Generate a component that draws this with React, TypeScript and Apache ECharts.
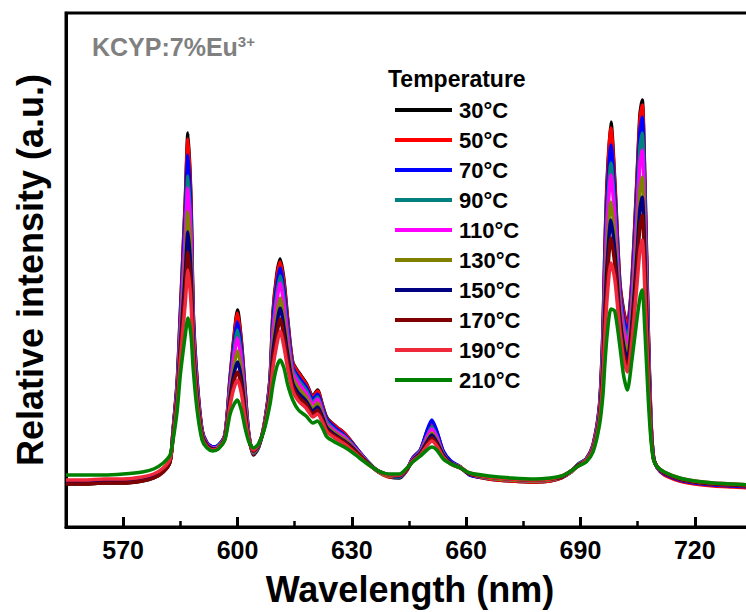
import React, { useEffect, useRef } from "react";
import * as echarts from "echarts";

// Emission wavelengths (nm)
const WAVELENGTH = [
  555, 560, 565, 570, 575, 578, 580.5, 582.3, 583.1, 584.2,
  585, 586.3, 587, 587.8, 588.4, 589.4, 590.7, 592, 593.5, 595,
  596.7, 598, 599, 600, 601, 602, 603, 604.2, 605.5, 607,
  608.5, 609.3, 610.3, 611.2, 612.2, 613.2, 614.5, 616, 618, 619.8,
  621, 622.3, 623.5, 626, 628, 630, 632, 634.5, 637, 640,
  642.5, 644.5, 646, 648, 649.7, 651, 652.3, 654, 656, 658.5,
  661, 666, 672, 678, 682, 685, 687.5, 689.5, 691.5, 693.3,
  695, 695.9, 696.4, 697, 698, 699, 700.3, 701.3, 702.3, 703.5,
  704.8, 705.6, 706.2, 706.9, 707.8, 708.5, 709.2, 710.2, 712, 716,
  720, 725, 730, 735, 740,
];

const T30 = [
  43, 43, 44, 44, 46, 49, 55, 65, 97, 147,
  214, 327, 394, 327, 214, 147, 97, 84, 80, 81,
  92, 147, 187, 217, 187, 137, 92, 72, 79, 102,
  147, 214, 252, 268, 247, 207, 165, 155, 144, 131,
  137, 122, 109, 100, 94, 85, 75, 64, 55, 50,
  49, 57, 69, 77, 95, 105, 95, 75, 65, 60,
  52, 48, 46, 45, 46, 49, 55, 63, 68, 82,
  122, 197, 277, 347, 405, 347, 247, 217, 202, 247,
  347, 412, 427, 347, 197, 107, 69, 59, 53, 47,
  44, 42, 41, 40, 39,
];
const T50 = [
  46, 46, 47, 47, 49, 52, 57, 67, 97, 146,
  212, 323, 388, 323, 212, 146, 97, 84, 80, 81,
  92, 146, 185, 214, 185, 136, 92, 73, 80, 102,
  146, 212, 249, 265, 244, 205, 164, 154, 143, 130,
  136, 121, 108, 100, 94, 85, 75, 64, 55, 50,
  50, 57, 69, 77, 94, 104, 94, 75, 65, 60,
  52, 48, 46, 45, 46, 49, 55, 63, 68, 82,
  121, 195, 274, 342, 399, 343, 245, 215, 200, 245,
  343, 407, 422, 343, 195, 106, 69, 59, 52, 46,
  43, 41, 40, 39, 38,
];
const T70 = [
  44, 44, 45, 45, 47, 50, 56, 66, 96, 143,
  207, 311, 372, 311, 207, 143, 96, 84, 80, 82,
  92, 143, 179, 205, 179, 132, 91, 74, 80, 101,
  144, 205, 241, 259, 236, 199, 160, 150, 140, 128,
  133, 119, 107, 98, 92, 84, 75, 64, 55, 51,
  50, 58, 69, 77, 96, 107, 96, 76, 66, 60,
  52, 49, 47, 46, 47, 50, 55, 63, 68, 81,
  120, 189, 263, 328, 382, 331, 239, 209, 194, 237,
  330, 395, 410, 334, 191, 105, 69, 59, 53, 47,
  44, 42, 41, 40, 39,
];
const T90 = [
  45, 45, 46, 46, 48, 51, 57, 67, 95, 140,
  200, 297, 351, 297, 201, 140, 95, 83, 79, 81,
  91, 139, 173, 197, 172, 129, 90, 74, 80, 101,
  142, 198, 232, 251, 228, 193, 157, 147, 137, 125,
  130, 117, 105, 96, 91, 83, 74, 64, 55, 51,
  50, 58, 68, 76, 91, 100, 91, 73, 64, 60,
  53, 49, 47, 46, 47, 50, 55, 63, 67, 80,
  118, 183, 252, 313, 364, 318, 233, 203, 188, 229,
  316, 379, 394, 322, 185, 104, 69, 59, 54, 48,
  45, 43, 42, 41, 40,
];
const T110 = [
  45, 45, 46, 46, 48, 51, 57, 67, 94, 138,
  196, 288, 339, 288, 197, 138, 94, 83, 79, 80,
  91, 137, 168, 189, 167, 126, 90, 75, 81, 101,
  140, 193, 225, 244, 221, 188, 154, 144, 134, 123,
  128, 115, 103, 95, 90, 82, 74, 63, 55, 51,
  51, 58, 68, 75, 90, 98, 90, 73, 64, 60,
  53, 49, 47, 46, 47, 50, 55, 62, 67, 80,
  116, 178, 244, 302, 352, 309, 228, 198, 183, 224,
  306, 363, 377, 308, 179, 102, 68, 59, 54, 48,
  45, 43, 42, 41, 40,
];
const T130 = [
  44, 44, 45, 45, 47, 50, 56, 66, 93, 134,
  187, 269, 315, 269, 189, 134, 93, 82, 78, 80,
  90, 132, 159, 176, 157, 121, 89, 75, 81, 100,
  136, 183, 212, 229, 209, 179, 149, 139, 130, 119,
  124, 112, 101, 93, 88, 81, 73, 63, 55, 51,
  51, 58, 67, 74, 87, 94, 87, 73, 64, 60,
  53, 49, 47, 46, 47, 50, 55, 62, 67, 79,
  113, 169, 228, 280, 325, 291, 219, 189, 174, 213,
  287, 337, 350, 287, 169, 99, 68, 60, 54, 48,
  45, 43, 42, 41, 40,
];
const T150 = [
  44, 44, 45, 45, 47, 50, 56, 66, 92, 131,
  181, 254, 295, 254, 183, 131, 92, 82, 78, 79,
  89, 128, 152, 165, 149, 116, 88, 76, 81, 99,
  134, 175, 202, 219, 199, 172, 144, 134, 126, 116,
  120, 110, 99, 91, 86, 80, 72, 63, 56, 52,
  51, 58, 67, 74, 85, 92, 85, 72, 64, 59,
  53, 50, 48, 47, 48, 50, 56, 62, 66, 78,
  111, 162, 215, 263, 307, 277, 212, 182, 167, 204,
  271, 318, 330, 271, 161, 97, 68, 60, 54, 48,
  45, 43, 42, 41, 40,
];
const T170 = [
  43, 43, 44, 44, 46, 49, 55, 65, 91, 128,
  174, 239, 275, 239, 177, 128, 91, 81, 77, 79,
  89, 124, 145, 155, 142, 112, 87, 76, 82, 99,
  131, 167, 192, 208, 190, 165, 140, 130, 123, 113,
  117, 107, 97, 90, 85, 79, 72, 63, 56, 52,
  52, 58, 66, 73, 83, 89, 83, 70, 63, 59,
  53, 50, 48, 47, 48, 50, 56, 62, 66, 77,
  109, 155, 202, 246, 289, 263, 205, 175, 160, 195,
  256, 300, 312, 257, 155, 95, 68, 60, 54, 48,
  45, 43, 42, 41, 40,
];
const T190 = [
  47, 47, 48, 48, 50, 53, 59, 68, 89, 124,
  167, 224, 257, 224, 171, 124, 89, 80, 77, 79,
  88, 120, 138, 147, 134, 108, 87, 77, 82, 98,
  128, 159, 182, 196, 180, 158, 136, 126, 119, 110,
  113, 105, 95, 88, 83, 77, 70, 62, 56, 52,
  52, 59, 66, 72, 81, 86, 81, 70, 63, 59,
  54, 50, 48, 47, 48, 51, 56, 61, 66, 77,
  107, 148, 190, 229, 264, 248, 198, 168, 155, 186,
  241, 276, 287, 236, 145, 92, 67, 60, 55, 49,
  46, 44, 43, 42, 41,
];
const T210 = [
  52, 52, 52, 53, 55, 58, 64, 72, 87, 117,
  152, 192, 209, 192, 157, 117, 87, 79, 76, 78,
  87, 112, 122, 127, 117, 99, 85, 79, 83, 97,
  122, 142, 160, 167, 159, 142, 127, 117, 111, 104,
  106, 99, 90, 84, 80, 75, 69, 62, 56, 53,
  53, 59, 65, 71, 77, 80, 77, 68, 63, 59,
  54, 51, 49, 48, 49, 51, 56, 61, 65, 75,
  102, 132, 162, 192, 218, 216, 182, 152, 137, 167,
  207, 229, 237, 197, 127, 87, 67, 60, 55, 49,
  46, 44, 43, 42, 41,
];

const SERIES_NAMES = ["30°C", "50°C", "70°C", "90°C", "110°C", "130°C", "150°C", "170°C", "190°C", "210°C"];
const SERIES_VALUES = [T30, T50, T70, T90, T110, T130, T150, T170, T190, T210];
const X_TICKS = [570, 600, 630, 660, 690, 720];
const X_MINOR_TICKS = [585, 615, 645, 675, 705, 735];

const COLORS = ["#000000", "#ff0000", "#0000ff", "#008080", "#ff00ff", "#808000", "#000080", "#800000", "#f0283c", "#008000"];
const FONT = 'Arial, "Liberation Sans", sans-serif';

const GRID_POS = { left: 66, top: 13, right: -25, bottom: 85 };

export default function App() {
  const ref = useRef<HTMLDivElement>(null);
  useEffect(() => {
    if (!ref.current) return;
    const chart = echarts.init(ref.current, undefined, { renderer: "svg" });
    const series = SERIES_NAMES.map((name, k) => ({
      name,
      type: "line",
      xAxisIndex: 0,
      yAxisIndex: 0,
      data: WAVELENGTH.map((w, i) => [w, SERIES_VALUES[k][i]]),
      showSymbol: false,
      symbol: "none",
      smooth: 0.25,
      lineStyle: { width: 3.5, color: COLORS[k] },
      itemStyle: { color: COLORS[k] },
      emphasis: { disabled: true },
    }));
    chart.setOption({
      animation: false,
      backgroundColor: "#ffffff",
      grid: [
        {
          ...GRID_POS,
          show: true,
          borderColor: "#000",
          borderWidth: 3,
          containLabel: false,
          outerBoundsMode: "none",
        },
        {
          ...GRID_POS,
          show: false,
          containLabel: false,
          outerBoundsMode: "none",
        },
      ],
      xAxis: [
        {
          type: "value",
          gridIndex: 0,
          min: 555,
          max: 740,
          position: "bottom",
          name: "Wavelength (nm)",
          nameLocation: "middle",
          nameGap: 44,
          nameTextStyle: { fontFamily: FONT, fontSize: 36, fontWeight: "bold", color: "#000", padding: [0, 17, 0, 0] },
          axisLine: { show: true, onZero: false, lineStyle: { color: "#000", width: 3 } },
          axisTick: { show: true, inside: true, length: 10, lineStyle: { width: 3, color: "#000" }, customValues: X_TICKS },
          axisLabel: { customValues: X_TICKS, margin: 10, fontFamily: FONT, fontSize: 25, fontWeight: "bold", color: "#000" },
          splitLine: { show: false },
        },
        {
          type: "value",
          gridIndex: 1,
          min: 555,
          max: 740,
          position: "bottom",
          axisLine: { show: false, onZero: false },
          axisTick: { show: true, inside: true, length: 6, lineStyle: { width: 2.5, color: "#000" }, customValues: X_MINOR_TICKS },
          axisLabel: { show: false },
          splitLine: { show: false },
        },
      ],
      yAxis: [
        {
          type: "value",
          gridIndex: 0,
          min: 0,
          max: 514,
          name: "Relative intensity (a.u.)",
          nameLocation: "middle",
          nameGap: 18,
          nameTextStyle: { fontFamily: FONT, fontSize: 36, fontWeight: "bold", color: "#000" },
          axisLine: { show: true, lineStyle: { color: "#000", width: 3 } },
          axisTick: { show: false },
          axisLabel: { show: false },
          splitLine: { show: false },
        },
        {
          type: "value",
          gridIndex: 1,
          min: 0,
          max: 514,
          show: false,
        },
      ],
      legend: {
        orient: "vertical",
        left: 390,
        top: 94,
        itemWidth: 57,
        itemHeight: 4,
        itemGap: 8,
        icon: "rect",
        data: SERIES_NAMES,
        selectedMode: false,
        textStyle: { fontFamily: FONT, fontSize: 22, fontWeight: "bold", color: "#000", lineHeight: 22, padding: [0, 0, 0, 2] },
      },
      graphic: [
        {
          type: "text",
          x: 92,
          y: 47,
          style: {
            text: "{a|KCYP:7%Eu}{b|3+}",
            verticalAlign: "middle",
            rich: {
              a: { fontFamily: FONT, fontSize: 25, fontWeight: "bold", fill: "#808080" },
              b: { fontFamily: FONT, fontSize: 15, fontWeight: "bold", fill: "#808080", padding: [0, 0, 12, 0] },
            },
          },
        },
        {
          type: "text",
          x: 388,
          y: 79,
          style: {
            text: "Temperature",
            fontFamily: FONT,
            fontSize: 23,
            fontWeight: "bold",
            fill: "#000",
            verticalAlign: "middle",
          },
        },
      ],
      series,
    });
    return () => chart.dispose();
  }, []);
  return <div ref={ref} style={{ position: "absolute", left: 0, top: 0, width: 746, height: 612 }} />;
}
